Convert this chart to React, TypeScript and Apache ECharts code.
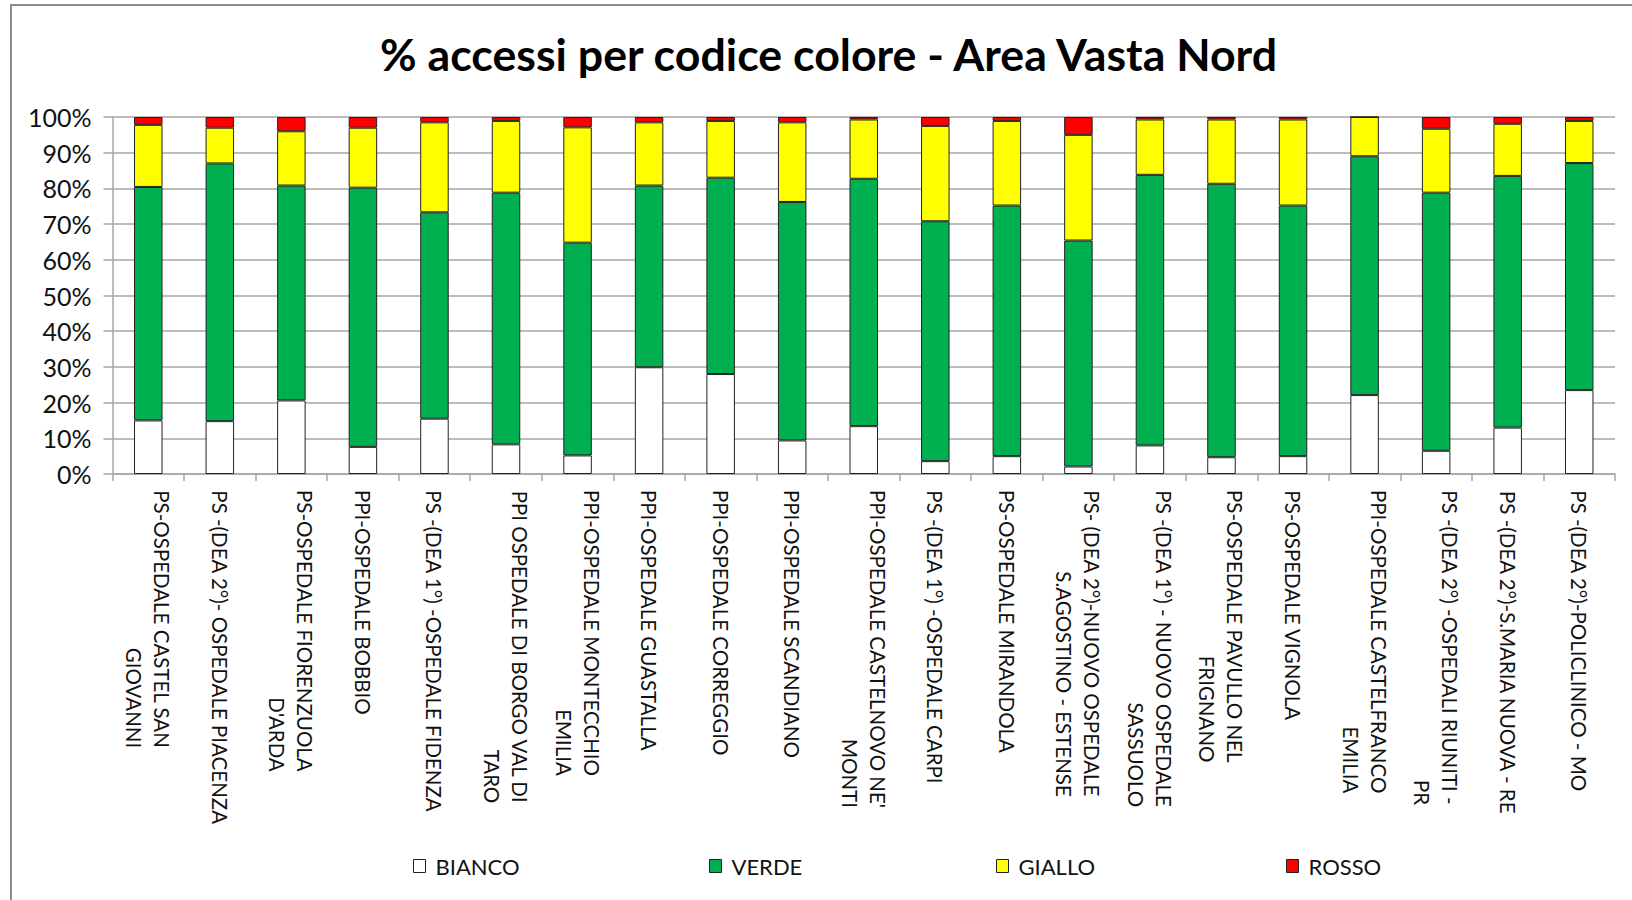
import React, { useEffect, useRef } from "react";
import * as echarts from "echarts";

const categories = [
  "PS-OSPEDALE CASTEL SAN\nGIOVANNI",
  "PS -(DEA 2°)- OSPEDALE PIACENZA",
  "PS-OSPEDALE FIORENZUOLA\nD'ARDA",
  "PPI-OSPEDALE BOBBIO",
  "PS -(DEA 1°) -OSPEDALE FIDENZA",
  "PPI OSPEDALE DI BORGO VAL DI\nTARO",
  "PPI-OSPEDALE MONTECCHIO\nEMILIA",
  "PPI-OSPEDALE GUASTALLA",
  "PPI-OSPEDALE CORREGGIO",
  "PPI-OSPEDALE SCANDIANO",
  "PPI-OSPEDALE CASTELNOVO NE'\nMONTI",
  "PS -(DEA 1°) -OSPEDALE CARPI",
  "PS-OSPEDALE MIRANDOLA",
  "PS- (DEA 2°)-NUOVO OSPEDALE\nS.AGOSTINO - ESTENSE",
  "PS -(DEA 1°) - NUOVO OSPEDALE\nSASSUOLO",
  "PS-OSPEDALE PAVULLO NEL\nFRIGNANO",
  "PS-OSPEDALE VIGNOLA",
  "PPI-OSPEDALE CASTELFRANCO\nEMILIA",
  "PS -(DEA 2°) -OSPEDALI RIUNITI -\nPR",
  "PS -(DEA 2°)-S.MARIA NUOVA - RE",
  "PS -(DEA 2°)-POLICLINICO - MO",
];

const seriesNames = ["BIANCO", "VERDE", "GIALLO", "ROSSO"];
const bianco = [15.0, 14.8, 20.6, 7.6, 15.5, 8.3, 5.2, 29.9, 28.0, 9.4, 13.4, 3.6, 5.0, 2.1, 8.0, 4.7, 5.0, 22.1, 6.5, 13.0, 23.5];
const verde = [65.4, 72.2, 60.2, 72.6, 57.8, 70.5, 59.6, 50.9, 55.0, 66.8, 69.3, 67.2, 70.2, 63.3, 75.8, 76.6, 70.2, 66.9, 72.3, 70.5, 63.6];
const giallo = [17.4, 10.0, 15.2, 16.8, 25.2, 20.1, 32.3, 17.7, 15.9, 22.3, 16.6, 26.7, 23.7, 29.6, 15.5, 18.0, 24.1, 11.0, 17.9, 14.6, 11.8];
const rosso = [2.2, 3.0, 4.0, 3.0, 1.5, 1.1, 2.9, 1.5, 1.1, 1.5, 0.7, 2.5, 1.1, 5.0, 0.7, 0.7, 0.7, 0.0, 3.3, 1.9, 1.1];
const colors = ["#FFFFFF", "#00B050", "#FFFF00", "#FF0000"];
const legendLeft = [408, 704, 991, 1281];

const FONT = "Lato";
const TXT = "#111111";
const GRID = "#A6A6A6";

export default function App() {
  const ref = useRef<HTMLDivElement>(null);
  useEffect(() => {
    if (!ref.current) return;
    const chart = echarts.init(ref.current, null, { renderer: "svg" });
    const values = [bianco, verde, giallo, rosso];
    chart.setOption({
      animation: false,
      backgroundColor: "#FFFFFF",
      title: {
        text: "% accessi per codice colore - Area Vasta Nord",
        left: 375,
        top: 26,
        textStyle: { fontFamily: FONT, fontWeight: "bold", fontSize: 44.7, color: "#000" },
      },
      graphic: [
        {
          type: "rect",
          shape: { x: 11, y: 5, width: 1700, height: 1000 },
          style: { fill: "none", stroke: "#8C8C8C", lineWidth: 2 },
          silent: true,
        },
      ],
      legend: seriesNames.map((n, i) => ({
        data: [n],
        left: legendLeft[i],
        top: 850,
        icon: "rect",
        itemWidth: 12,
        itemHeight: 13,
        textStyle: { fontFamily: FONT, fontSize: 22, color: TXT, padding: [0, 0, 0, 5] },
        itemStyle: { borderColor: "#222", borderWidth: 1 },
        selectedMode: false,
      })),
      grid: { left: 112.5, right: 17, top: 117, bottom: 426, outerBoundsMode: "none", containLabel: false },
      xAxis: {
        type: "category",
        data: categories,
        boundaryGap: true,
        axisLine: { show: true, lineStyle: { color: GRID, width: 1.5 } },
        axisTick: { show: true, length: 7, lineStyle: { color: GRID, width: 1.5 } },
        axisLabel: {
          interval: 0,
          rotate: -90,
          margin: 16,
          formatter: (v: string) => v.split("\n").map((l) => `{c|${l}}`).join("\n"),
          rich: {
            c: { width: "100%", align: "center", fontFamily: FONT, fontSize: 20.5, lineHeight: 28, color: TXT },
          },
        },
      },
      yAxis: {
        type: "value",
        min: 0,
        max: 100,
        interval: 10,
        axisLine: { show: true, lineStyle: { color: GRID, width: 1.5 } },
        axisTick: { show: true, length: 9, lineStyle: { color: GRID, width: 1.5 } },
        splitLine: { show: true, lineStyle: { color: GRID, width: 1.5 } },
        axisLabel: {
          margin: 21,
          formatter: "{value}%",
          fontFamily: FONT,
          fontSize: 25,
          color: TXT,
        },
      },
      series: seriesNames.map((n, i) => ({
        name: n,
        type: "bar",
        stack: "tot",
        barWidth: 28.5,
        data: values[i],
        itemStyle: { color: colors[i], borderColor: "#222", borderWidth: 1 },
      })),
    });
    return () => chart.dispose();
  }, []);
  return <div ref={ref} style={{ position: "fixed", left: 0, top: 0, width: 1632, height: 900 }} />;
}
